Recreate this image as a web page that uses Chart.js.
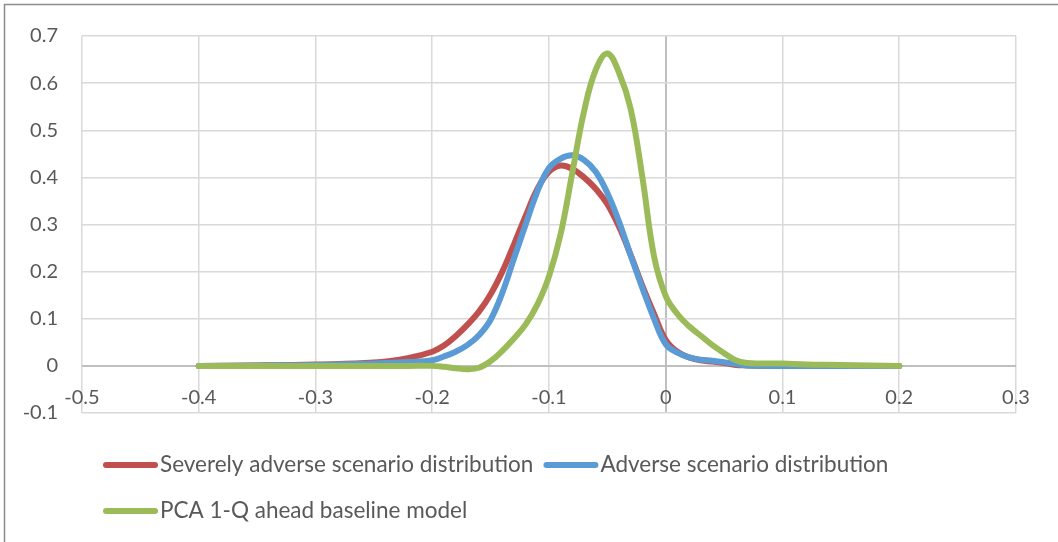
<!DOCTYPE html>
<html>
<head>
<meta charset="utf-8">
<script src="https://cdn.jsdelivr.net/npm/chart.js@4.4.1/dist/chart.umd.min.js"></script>
<style>
    html, body { margin: 0; padding: 0; background: #fff; overflow: hidden; }
    #chart-container { position: relative; width: 1058px; height: 542px; }
</style>
</head>
<body>
<div id="chart-container"><canvas id="density-chart"></canvas></div>
<script>
// x positions (return) shared by all three curves
const xValues = [-0.4, -0.35, -0.3, -0.25, -0.22, -0.2, -0.19, -0.18, -0.17, -0.16, -0.15, -0.14, -0.13, -0.12, -0.11,
    -0.1, -0.09, -0.08, -0.07, -0.06, -0.05, -0.04, -0.03, -0.02, -0.01, 0, 0.01, 0.02, 0.03, 0.04, 0.05, 0.06,
    0.07, 0.08, 0.1, 0.12, 0.15, 0.2];

const severelyAdverse = [0, 0.001, 0.003, 0.007, 0.017, 0.03, 0.043, 0.063, 0.087, 0.115, 0.152, 0.2, 0.258, 0.318, 0.375,
    0.412, 0.425, 0.418, 0.4, 0.376, 0.343, 0.295, 0.235, 0.17, 0.11, 0.055, 0.03, 0.018, 0.012, 0.009, 0.006, 0.002,
    0.001, 0, 0, 0, 0, 0];

const adverse = [0, 0.001, 0.002, 0.005, 0.008, 0.012, 0.02, 0.03, 0.044, 0.065, 0.098, 0.155, 0.228, 0.3, 0.37,
    0.42, 0.44, 0.447, 0.437, 0.412, 0.367, 0.306, 0.234, 0.165, 0.1, 0.046, 0.028, 0.018, 0.013, 0.011, 0.008, 0.004,
    0.001, 0, 0, 0, 0, 0];

const pcaBaseline = [0, 0, 0, 0, 0, 0, -0.002, -0.005, -0.007, -0.004, 0.01, 0.032, 0.058, 0.088, 0.13,
    0.19, 0.28, 0.41, 0.54, 0.628, 0.663, 0.622, 0.545, 0.4, 0.232, 0.148, 0.11, 0.084, 0.064, 0.044, 0.027, 0.012,
    0.006, 0.005, 0.005, 0.003, 0.002, 0];

const seriesLabels = ['Severely adverse scenario distribution', 'Adverse scenario distribution', 'PCA 1-Q ahead baseline model'];
const seriesColors = ['#C0504D', '#5B9BD5', '#9BBB59'];

const xTicks = [-0.5, -0.4, -0.3, -0.2, -0.1, 0, 0.1, 0.2, 0.3];
const yTicks = [-0.1, 0, 0.1, 0.2, 0.3, 0.4, 0.5, 0.6, 0.7];

const textColor = '#595959';
const gridColor = '#d9d9d9';
const axisColor = '#bfbfbf';
const fontFamily = 'Lato, "Open Sans", sans-serif';

function toPoints(values) {
    return values.map((v, i) => ({ x: xValues[i], y: v }));
}

function fmt(v) {
    return String(Number(v.toFixed(1)));
}

// Excel style outer frame (only top and left edges are visible in the picture)
const frame = {
    id: 'frame',
    beforeDraw(chart) {
        const ctx = chart.ctx;
        ctx.save();
        ctx.strokeStyle = '#8c8c8c';
        ctx.lineWidth = 1.5;
        ctx.beginPath();
        ctx.moveTo(4.5, chart.height);
        ctx.lineTo(4.5, 4.5);
        ctx.lineTo(chart.width, 4.5);
        ctx.stroke();
        ctx.restore();
    }
};

// legend drawn like Excel: long line swatch, rows left aligned
const excelLegend = {
    id: 'excelLegend',
    afterDraw(chart) {
        const ctx = chart.ctx;
        ctx.save();
        ctx.font = '22.5px ' + fontFamily;
        ctx.textBaseline = 'middle';
        let x = 103, y = 465;
        chart.data.datasets.forEach(ds => {
            const w = 57 + ctx.measureText(ds.label).width;
            if (x + w > 1000) {
                x = 103;
                y += 46;
            }
            ctx.strokeStyle = ds.borderColor;
            ctx.lineWidth = 6;
            ctx.lineCap = 'round';
            ctx.beginPath();
            ctx.moveTo(x + 3, y);
            ctx.lineTo(x + 52, y);
            ctx.stroke();
            ctx.fillStyle = textColor;
            ctx.fillText(ds.label, x + 57, y);
            x += w + 10;
        });
        ctx.restore();
    }
};

const allSeries = [severelyAdverse, adverse, pcaBaseline];

const ctx = document.getElementById('density-chart').getContext('2d');
new Chart(ctx, {
    type: 'line',
    data: {
        datasets: allSeries.map((values, i) => ({
            label: seriesLabels[i],
            data: toPoints(values),
            borderColor: seriesColors[i],
            backgroundColor: seriesColors[i],
            borderWidth: 6,
            borderCapStyle: 'round',
            borderJoinStyle: 'round',
            pointRadius: 0,
            tension: 0.4,
            fill: false,
            order: 3 - i
        }))
    },
    options: {
        responsive: true,
        maintainAspectRatio: false,
        animation: false,
        layout: {
            padding: { left: 0, top: 33, right: 42, bottom: 129 }
        },
        plugins: {
            legend: { display: false },
            tooltip: { enabled: false }
        },
        scales: {
            x: {
                type: 'linear',
                position: { y: 0 },
                min: -0.5,
                max: 0.3,
                afterBuildTicks: scale => { scale.ticks = xTicks.map(v => ({ value: v })); },
                border: { display: false },
                grid: {
                    drawTicks: false,
                    lineWidth: ctx => ctx.tick && ctx.tick.value === 0 ? 2 : 1.5,
                    color: ctx => ctx.tick && ctx.tick.value === 0 ? axisColor : gridColor
                },
                ticks: {
                    padding: 20,
                    maxRotation: 0,
                    color: textColor,
                    font: { family: fontFamily, size: 20 },
                    callback: v => fmt(v)
                }
            },
            y: {
                type: 'linear',
                position: 'left',
                min: -0.1,
                max: 0.7,
                afterBuildTicks: scale => { scale.ticks = yTicks.map(v => ({ value: v })); },
                afterFit: scale => { scale.width = 82; },
                border: { display: false },
                grid: {
                    drawTicks: false,
                    lineWidth: ctx => ctx.tick && ctx.tick.value === 0 ? 2 : 1.5,
                    color: ctx => ctx.tick && ctx.tick.value === 0 ? axisColor : gridColor
                },
                ticks: {
                    padding: 24,
                    color: textColor,
                    font: { family: fontFamily, size: 20 },
                    callback: v => fmt(v)
                }
            }
        }
    },
    plugins: [frame, excelLegend]
});
</script>
</body>
</html>
